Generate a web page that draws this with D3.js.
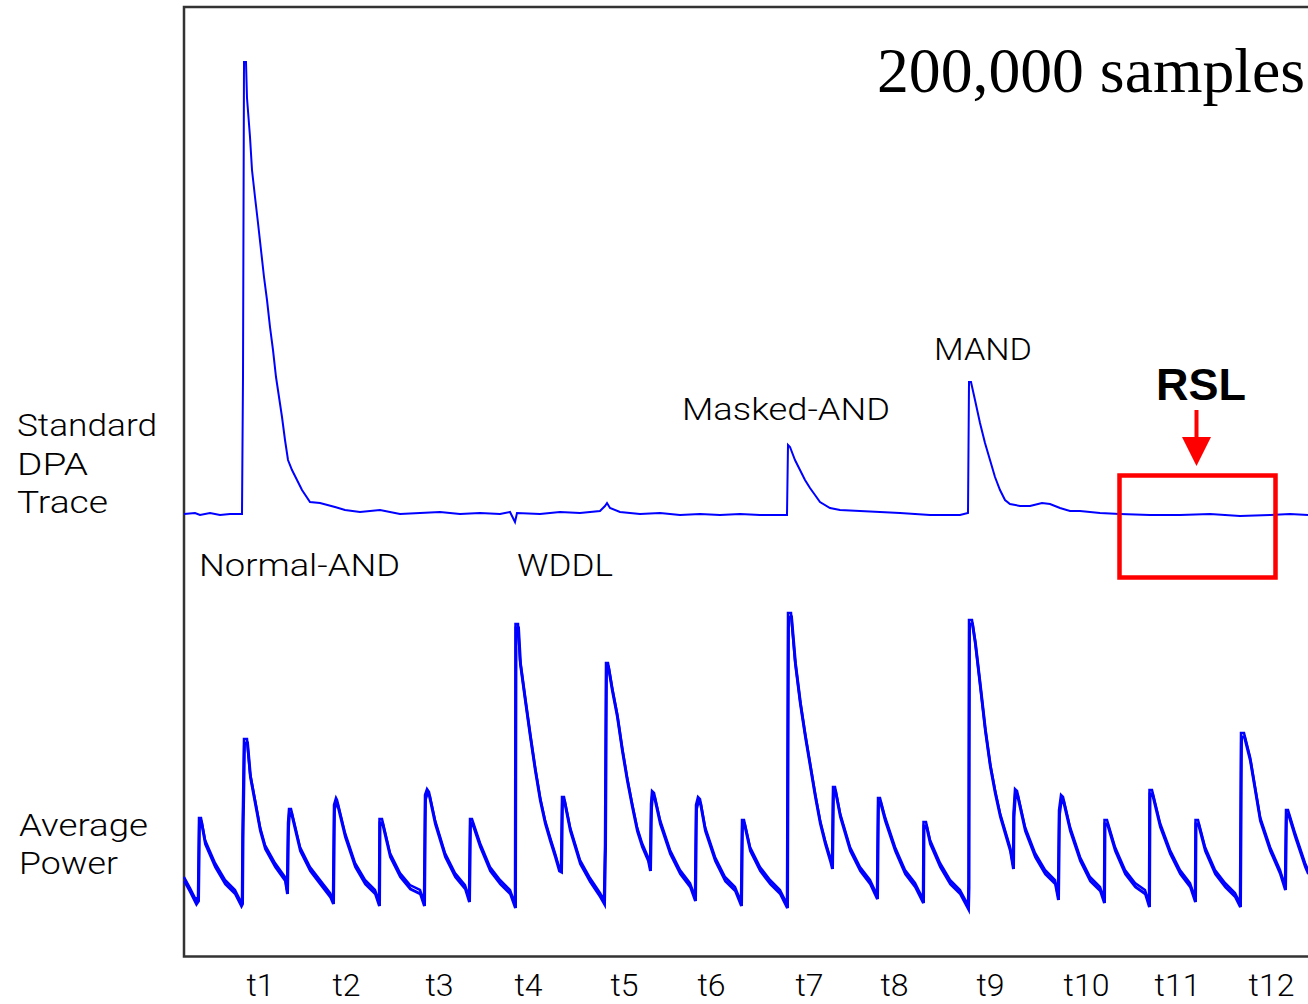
<!DOCTYPE html>
<html>
<head>
<meta charset="utf-8">
<script src="https://cdn.jsdelivr.net/npm/d3@7"></script>
<style>
  body { margin: 0; background: #fff; }
  svg { display: block; }
  .lbl { font-family: Roboto, "Liberation Sans", Arial, sans-serif; font-weight: 300; fill: #000; }
</style>
</head>
<body>
<div id="chart"></div>
<script>
// Standard DPA trace: [time, amplitude]
const dpaTrace = [
  [0,1],[11,2],[16,0],[26,2],[36,0],[46,1],[58,1],[59,138],[60,453],[62,453],[63,417],[66,378],[68,345],
  [71,318],[74,292],[77,265],[80,238],[83,215],[86,188],[89,165],[92,138],[95,118],[98,98],[101,75],
  [104,55],[108,45],[113,35],[118,25],[126,13],[136,12],[151,8],[161,5],[176,3],[196,5],[216,1],[236,2],
  [256,3],[276,1],[296,2],[316,1],[326,3],[331,-7],[333,2],[356,1],[376,3],[396,2],[416,4],[421,9],
  [423,12],[426,7],[436,3],[456,1],[476,2],[496,0],[516,1],[536,0],[556,1],[576,0],[603,0],[604,70],
  [606,68],[611,55],[616,45],[621,35],[626,27],[631,20],[636,13],[646,7],[656,5],[676,4],[696,3],[716,2],
  [746,0],[776,0],[784,2],[785,133],[787,133],[791,115],[796,92],[801,72],[806,55],[811,38],[816,25],
  [821,15],[826,11],[836,9],[846,9],[858,12],[866,11],[876,7],[886,4],[896,4],[916,2],[936,1],[966,0],
  [996,0],[1026,1],[1056,-1],[1086,0],[1106,1],[1124,0]
];

// Average power trace: [time, power]
const avgPower = [
  [0,28],[6,17],[12,5],[14,8],
  [15,87],[17,87],[21,65],[31,42],[41,25],[51,15],[57,3],
  [58,5],[58.5,70],[60,166],[63,166],[66,132],[71,105],[76,78],[81,60],[91,42],[101,28],[103,15],
  [104,82],[105,96],[107,96],[116,58],[126,38],[136,25],[146,12],[149,5],
  [150,100],[152,107],[153,105],[161,72],[171,42],[181,25],[191,15],[195,3],
  [195.5,86],[198,86],[206,52],[216,32],[226,20],[236,15],[240,3],
  [241,110],[243,116],[245,113],[251,85],[261,52],[271,32],[281,20],[285,7],
  [286,86],[288,86],[296,62],[306,38],[316,25],[326,15],[331,1],
  [331.5,281],[334,281],[336,245],[341,208],[346,172],[351,138],[356,108],[361,85],[366,68],[371,52],[375,38],
  [377,37],[378,108],[380,108],[386,78],[396,45],[406,27],[416,12],[420,5],
  [421,60],[422,242],[424,242],[428,218],[433,192],[438,158],[443,128],[448,102],[453,78],[458,62],[464,48],[466,38],
  [467,101],[468,114],[470,112],[476,85],[486,55],[496,35],[506,22],[511,8],
  [512,100],[514,108],[516,106],[521,78],[531,48],[541,28],[551,18],[557,3],
  [558,85],[560,85],[566,58],[576,38],[586,25],[596,15],[603,1],
  [604,292],[607,292],[611,245],[616,205],[621,172],[626,142],[631,112],[636,85],[641,65],[646,48],[648,40],
  [649,118],[651,118],[656,92],[666,58],[676,38],[686,25],[693,10],
  [694,107],[696,107],[701,88],[711,58],[721,35],[731,22],[739,6],
  [739.5,83],[742,83],[746,65],[756,42],[766,25],[776,15],[784,0],
  [784.5,22],[785,285],[788,285],[791,265],[796,222],[801,178],[806,142],[811,115],[816,92],[821,75],[826,58],[829,40],
  [829.5,92],[831,116],[833,114],[841,78],[851,52],[861,35],[871,25],[874,9],
  [875,95],[877,110],[879,108],[886,78],[896,48],[906,28],[916,18],[920,6],
  [920.5,85],[923,85],[931,58],[941,35],[951,22],[961,15],[965,2],
  [965.5,115],[968,115],[976,82],[986,55],[996,35],[1006,22],[1011,7],
  [1011.5,85],[1014,85],[1021,58],[1031,35],[1041,22],[1051,12],[1056,2],
  [1057,172],[1060,172],[1066,148],[1071,118],[1076,88],[1086,58],[1096,35],[1101,19],
  [1102,95],[1104,95],[1111,72],[1121,42],[1124,35]
];

const tickNames = ['t1','t2','t3','t4','t5','t6','t7','t8','t9','t10','t11','t12'];
const tickTimes = [76, 162, 255, 344, 440, 527, 625, 710, 806, 902, 993, 1087];

// gate labels: [text, time, dpa level, width]
const gateLabels = [
  ['Normal-AND', 15, -61, 201],
  ['WDDL', 333, -61, 96],
  ['Masked-AND', 498, 95, 208],
  ['MAND', 750, 155, 98]
];
const rslWindow = [935.5, 1091.5];

const W = 1308, H = 1004;
const svg = d3.select('#chart').append('svg').attr('width', W).attr('height', H);

const x = d3.scaleLinear().domain([0, 1124]).range([184, 1308]);
const yDpa = d3.scaleLinear().domain([0, 460]).range([515, 55]);
const yAvg = d3.scaleLinear().domain([0, 300]).range([905, 605]);

// frame (right side is cropped)
svg.append('path')
  .attr('d', `M1308,7H184V956.5H1308`)
  .attr('fill', 'none').attr('stroke', '#333').attr('stroke-width', 2.5);

const lineDpa = d3.line().x(d => x(d[0])).y(d => yDpa(d[1]));
const lineAvg = d3.line().x(d => x(d[0])).y(d => yAvg(d[1]));

svg.append('path').datum(dpaTrace)
  .attr('d', lineDpa).attr('fill', 'none').attr('stroke', '#0000ff').attr('stroke-width', 2);

// average trace drawn twice to give the noisy band
svg.append('path').datum(avgPower)
  .attr('d', lineAvg).attr('fill', 'none').attr('stroke', '#0000ff').attr('stroke-width', 3)
  .attr('transform', 'translate(0.5,4)');
svg.append('path').datum(avgPower)
  .attr('d', lineAvg).attr('fill', 'none').attr('stroke', '#0000ff').attr('stroke-width', 2.5);

// x tick labels
const axis = svg.append('g')
  .attr('transform', 'translate(0,966)')
  .call(d3.axisBottom(x).tickValues(tickTimes).tickSize(0).tickFormat((d, i) => tickNames[i]));
axis.select('.domain').remove();
axis.selectAll('text')
  .attr('class', 'lbl').attr('fill', '#000')
  .style('font-size', '32px').attr('dy', 0).attr('y', 30);

// side labels
const side = [
  ['Standard', 17, 436, 140], ['DPA', 17, 475, 71], ['Trace', 17, 513, 91],
  ['Average', 19, 836, 129], ['Power', 19, 874, 99]
];
svg.selectAll('.side').data(side).join('text')
  .attr('class', 'lbl side')
  .attr('x', d => d[1]).attr('y', d => d[2])
  .attr('textLength', d => d[3]).attr('lengthAdjust', 'spacingAndGlyphs')
  .style('font-size', '32px')
  .text(d => d[0]);

svg.selectAll('.gate').data(gateLabels).join('text')
  .attr('class', 'lbl gate')
  .attr('x', d => x(d[1])).attr('y', d => yDpa(d[2]))
  .attr('textLength', d => d[3]).attr('lengthAdjust', 'spacingAndGlyphs')
  .style('font-size', '32px')
  .text(d => d[0]);

// sample count
svg.append('text')
  .attr('x', 877).attr('y', 92)
  .attr('textLength', 428).attr('lengthAdjust', 'spacingAndGlyphs')
  .style('font-family', '"Liberation Serif", "Times New Roman", serif')
  .style('font-size', '64px')
  .text('200,000 samples');

// RSL annotation
const red = '#ff0000';
svg.append('rect')
  .attr('x', x(rslWindow[0])).attr('y', 475.5)
  .attr('width', x(rslWindow[1]) - x(rslWindow[0])).attr('height', 102)
  .attr('fill', 'none').attr('stroke', red).attr('stroke-width', 4.5);

const ax = 1196.5;
svg.append('line').attr('x1', ax).attr('x2', ax).attr('y1', 410).attr('y2', 440)
  .attr('stroke', red).attr('stroke-width', 4);
svg.append('path')
  .attr('d', `M${ax - 14.5},437L${ax + 14.5},437L${ax},466Z`)
  .attr('fill', red);

svg.append('text')
  .attr('x', 1201).attr('y', 400).attr('text-anchor', 'middle')
  .style('font-family', '"Liberation Sans", Arial, sans-serif')
  .style('font-weight', 'bold').style('font-size', '45px')
  .text('RSL');
</script>
</body>
</html>
